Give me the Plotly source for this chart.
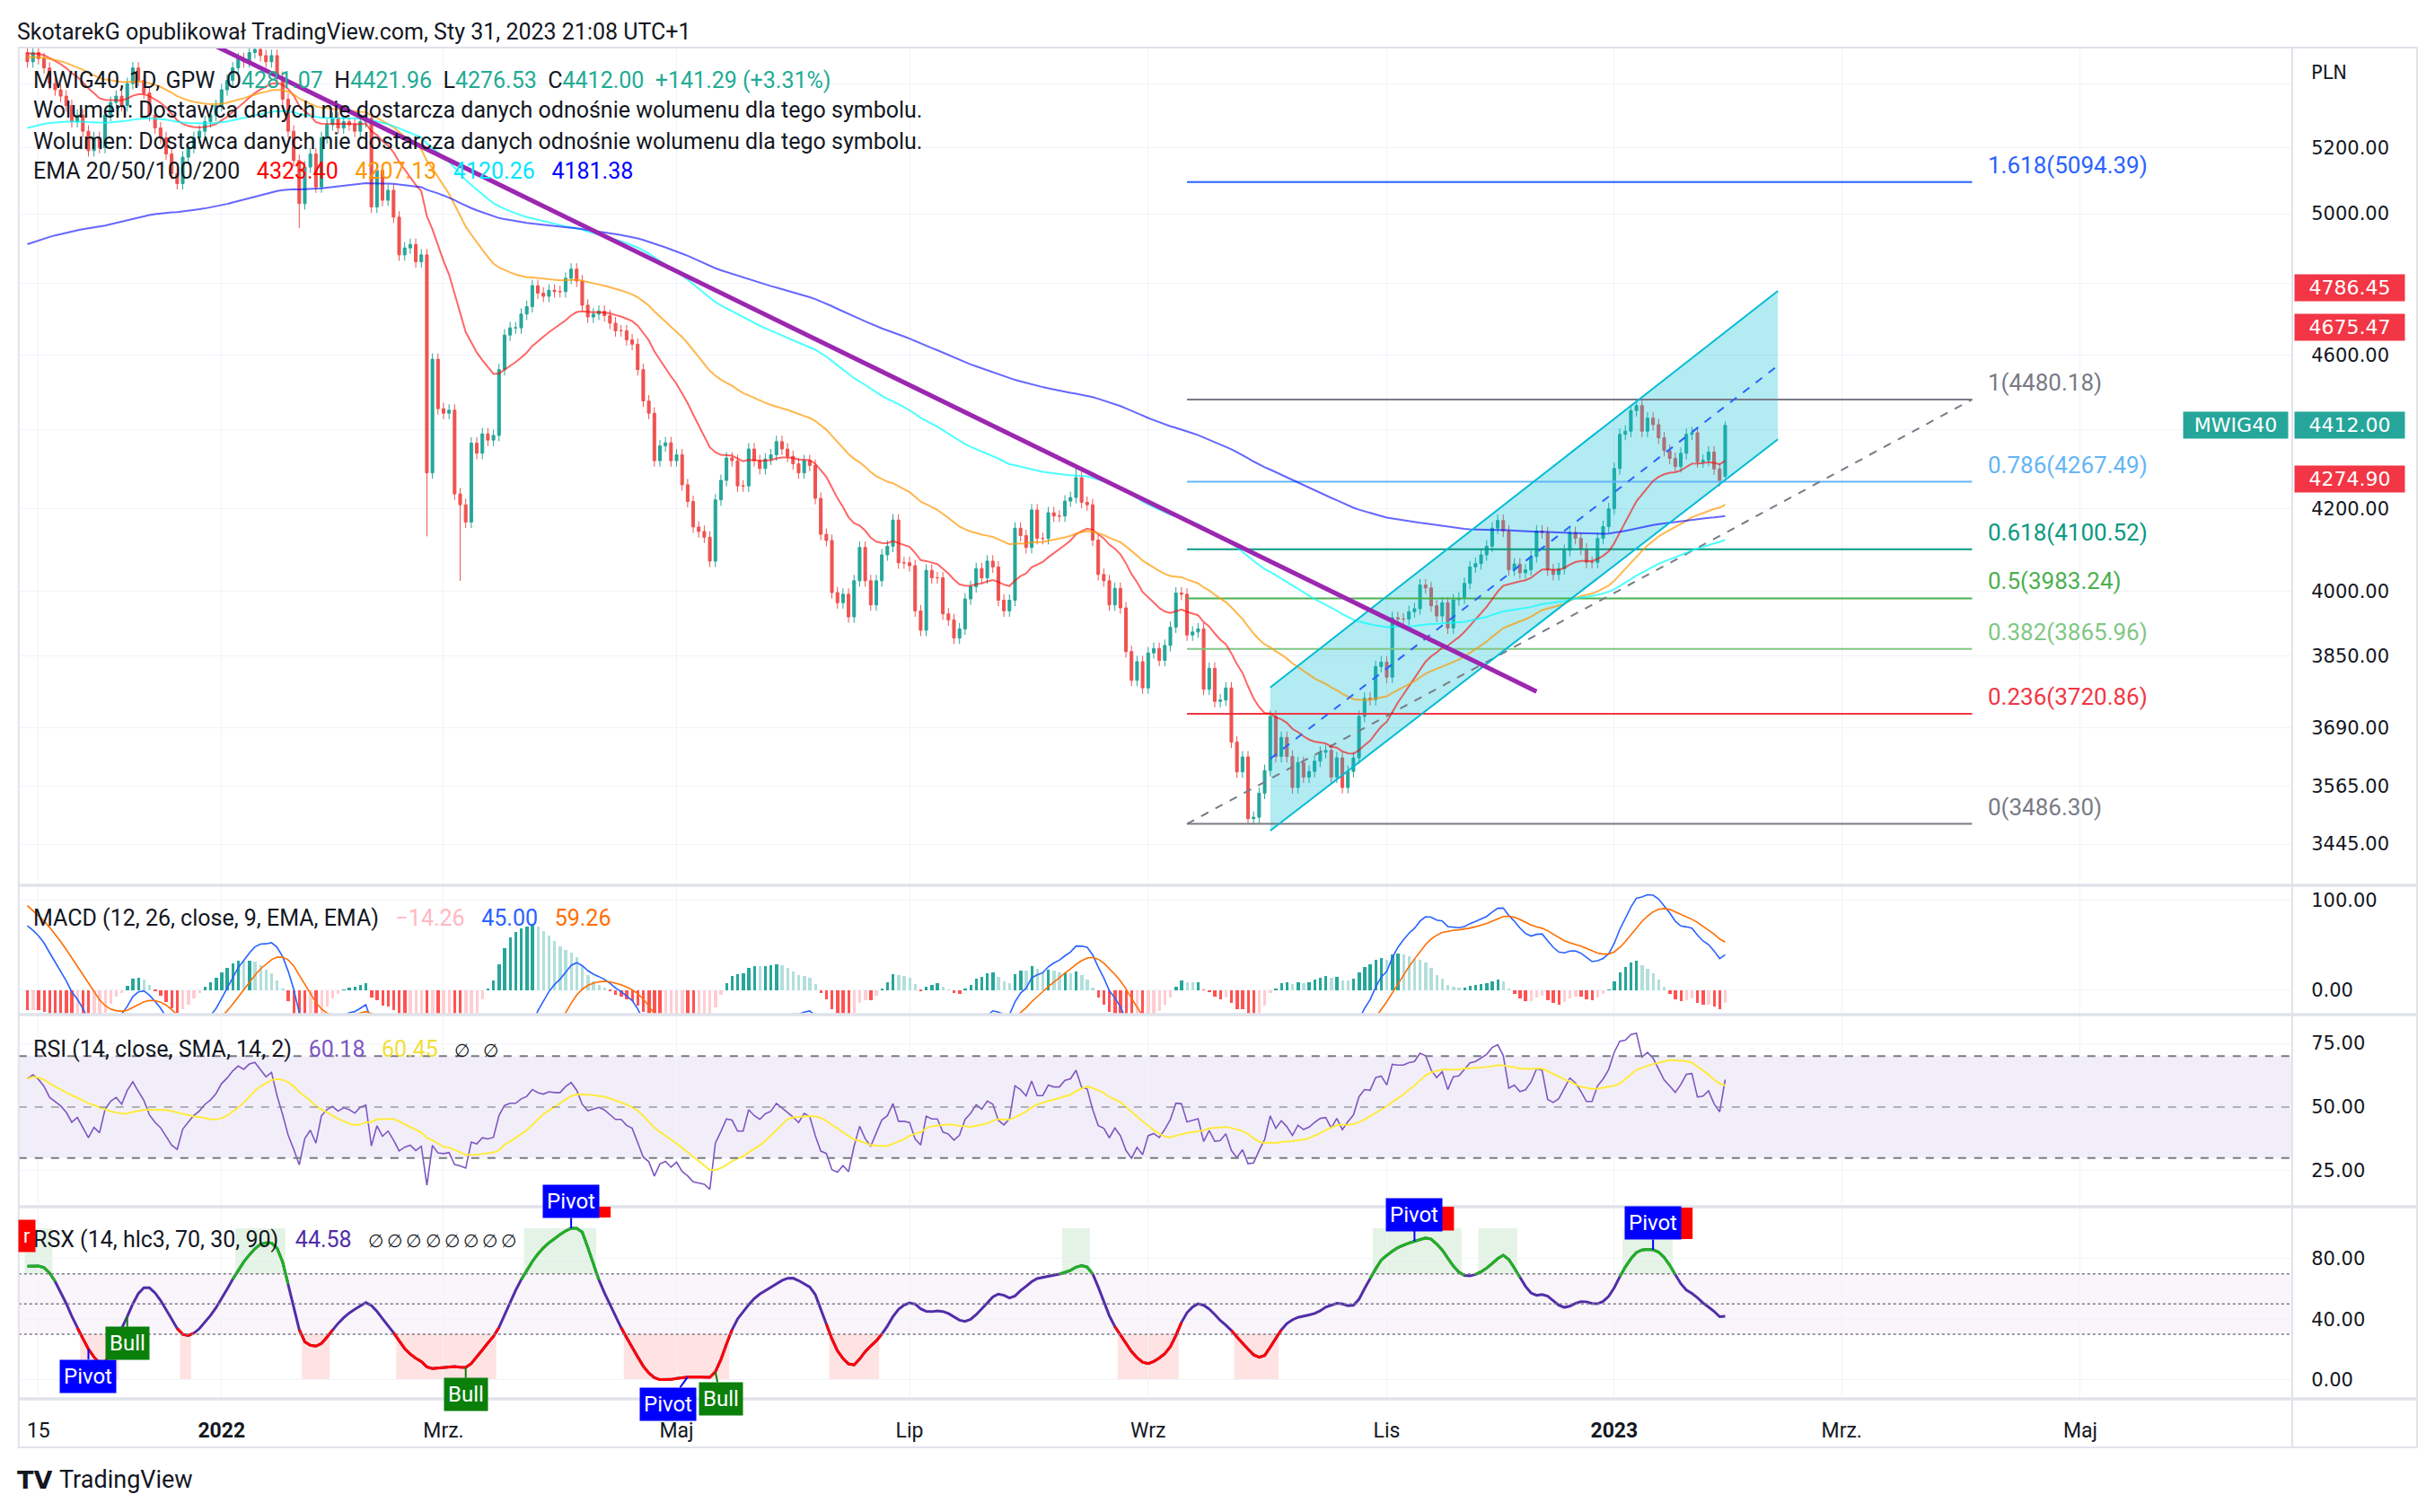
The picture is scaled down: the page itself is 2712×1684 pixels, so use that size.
import numpy as np
import pandas as pd
import plotly.graph_objects as go

W, H = 2712, 1684

# ---------------- price data (daily closes) ----------------
close_nov_dec_2021 = [5470, 5500, 5480, 5450, 5400, 5380, 5360, 5330, 5280, 5300, 5250, 5190, 5230, 5200,
                      5300, 5340, 5360, 5330, 5400, 5450, 5410, 5370, 5300, 5260, 5230, 5180, 5120, 5090,
                      5170, 5200, 5230, 5250, 5280, 5300, 5330]
close_jan_feb_2022 = [5380, 5410, 5450, 5480, 5470, 5500, 5510, 5490, 5470, 5490, 5420, 5350, 5250, 5160,
                      5030, 5140, 5180, 5080, 5230, 5270,
                      5290, 5260, 5280, 5270, 5250, 5280, 5290, 5020, 5130, 5040, 5070, 4990, 4880, 4900,
                      4910, 4860, 4880, 4290, 4588, 4456]
close_mar_jun_2022 = [4444, 4452, 4237, 4210, 4167, 4366, 4340, 4390, 4374, 4386, 4560, 4654, 4674, 4674,
                      4712, 4733, 4792, 4771, 4762, 4779, 4775, 4775, 4813, 4839, 4805, 4737, 4704, 4712,
                      4720, 4708, 4687, 4666, 4666, 4641, 4629, 4560, 4476, 4444, 4321, 4359, 4367, 4321,
                      4336, 4260, 4218, 4155, 4144, 4130, 4072, 4222, 4271, 4328, 4321, 4257, 4257, 4351,
                      4321, 4301, 4325, 4336, 4370, 4351, 4332, 4313, 4290, 4321, 4309, 4226, 4137, 4122,
                      3997, 3973]
close_jun_sep_2022 = [3993, 3940, 4025, 4105, 4025, 3968, 4025, 4087, 4108, 4172,
                      4068, 4068, 4061, 3954, 3909, 4050, 4032, 4032, 3947, 3933,
                      3891, 3912, 3982, 4011, 4054, 4032, 4072, 4058, 3979, 3954,
                      3979, 4152, 4134, 4105, 4197, 4127, 4127, 4190, 4182, 4182,
                      4219, 4228, 4278, 4216, 4210, 4123, 4040, 4025, 3968, 4007,
                      3961, 3860, 3795, 3837, 3778, 3857, 3867, 3840, 3874, 3916,
                      3996, 3993, 3898, 3905, 3912, 3775, 3822, 3748, 3751, 3778,
                      3659, 3595, 3627, 3497, 3500, 3550, 3598]
close_oct_dec_2022 = [3715, 3628, 3669, 3628, 3562, 3615, 3584, 3596, 3618, 3637,
                      3641, 3584, 3625, 3562, 3596, 3625, 3715, 3755, 3752, 3826,
                      3836, 3802, 3938, 3935, 3935, 3952, 3959, 4015, 4008, 3966,
                      3942, 3973, 3914, 3980, 3984, 4019, 4058, 4066, 4087, 4108,
                      4152, 4171, 4145, 4051, 4065, 4044, 4051, 4083, 4145, 4141,
                      4051, 4040, 4054, 4098, 4141, 4127, 4101, 4069, 4069, 4127,
                      4156, 4200]
close_jan_2023 = [4301, 4389, 4397, 4451, 4464, 4397, 4431, 4414, 4380, 4347, 4327, 4306, 4340, 4389,
                  4393, 4318, 4322, 4343, 4300, 4270.71, 4412.00]

first_open = 5500.0
last_bar = dict(open=4281.07, high=4421.96, low=4276.53)
low_wicks = {"2022-01-24": 4958, "2022-02-24": 4132, "2022-03-04": 4025, "2022-09-27": 3486.30}
high_wicks = {"2023-01-10": 4480.18, "2022-08-12": 4305}

gpw_holidays = ["2021-11-11", "2021-12-24", "2021-12-31", "2022-01-06", "2022-04-15", "2022-04-18",
                "2022-05-03", "2022-06-16", "2022-08-15", "2022-11-01", "2022-11-11", "2022-12-26",
                "2023-01-06"]

ema_periods = [20, 50, 100, 200]
ema_seeds = [5500, 5485, 5256, 4905]
ema_line_colors = ["rgba(255,0,0,0.6)", "rgba(255,152,0,0.7)", "rgba(0,255,255,0.7)", "rgba(0,0,255,0.6)"]
macd_seeds = dict(fast=5500, slow=5420, signal=100)
rsi_seeds = dict(gain=35.0, loss=20.0)
rsx_seeds = dict(num=2000.0, den=4000.0)

# legend values (as printed on the chart)
legend_ohlc = ["4281.07", "4421.96", "4276.53", "4412.00"]
legend_change = "+141.29 (+3.31%)"
legend_ema = ["4323.40", "4207.13", "4120.26", "4181.38"]
legend_ema_colors = ["#FF0000", "#FF9800", "#00E5FF", "#0000FF"]
legend_macd = ["\u221214.26", "45.00", "59.26"]
legend_rsi = ["60.18", "60.45"]
legend_rsx = "44.58"

# horizontal levels and drawings
red_levels = [4786.45, 4675.47, 4274.90]
last_price = 4412.00
fib_labels = ["0", "0.236", "0.382", "0.5", "0.618", "0.786", "1", "1.618"]
fib_prices = [3486.30, 3720.86, 3865.96, 3983.24, 4100.52, 4267.49, 4480.18, 5094.39]
fib_colors = ["#787B86", "#F23645", "#81C784", "#4CAF50", "#089981", "#64B5F6", "#787B86", "#2962FF"]
fib_x = ["2022-09-12 12:00", "2023-04-04 00:00"]
trend_x = ["2021-12-27 12:00", "2022-12-12 12:00"]
trend_y = [5547, 3770]
chan_x = ["2022-10-03 12:00", "2023-02-14 00:00"]
chan_upper = [3779, 4777]
chan_mid = [3623, 4571]
chan_lower = [3472, 4376]
box_x = ["2023-01-09 19:00", "2023-06-08 00:00"]
box_y = [4675.47, 4786.45]

rsx_label_dates = ["2021-11-26", "2021-12-07", "2022-03-07", "2022-04-01", "2022-05-05", "2022-05-12",
                   "2022-11-09", "2023-01-12"]
rsx_label_text = ["Pivot", "Bull", "Bull", "Pivot", "Pivot", "Bull", "Pivot", "Pivot"]
rsx_label_side = ["below", "below", "below", "above", "below", "below", "above", "above"]
rsx_label_dx = [0, 0, 0, 0, -22, 6, 0, 0]

price_ticks = [5400, 5200, 5000, 4800, 4600, 4400, 4200, 4000, 3850, 3690, 3565, 3445]
price_ticks_hidden = [5400, 4800, 4400]   # covered by the PLN caption and price badges
time_tickvals = ["2021-11-15 12:00", "2022-01-03 12:00", "2022-03-01 12:00", "2022-05-02 12:00",
                 "2022-07-01 12:00", "2022-09-01 12:00", "2022-11-02 12:00", "2023-01-02 12:00",
                 "2023-03-01 12:00", "2023-05-01 12:00"]
time_ticktext = ["15", "<b>2022</b>", "Mrz.", "Maj", "Lip", "Wrz", "Lis", "<b>2023</b>", "Mrz.", "Maj"]

# ---------------- build series ----------------
close = np.array(close_nov_dec_2021 + close_jan_feb_2022 + close_mar_jun_2022 + close_jun_sep_2022
                 + close_oct_dec_2022 + close_jan_2023, dtype=float)
n = len(close)
bd = pd.bdate_range("2021-09-01", "2023-01-31")
bd = bd[~bd.isin(pd.to_datetime(gpw_holidays))]
days = bd[-n:]
dates = days + pd.Timedelta(hours=12)

open_ = np.concatenate([[first_open], close[:-1]])
open_[-1] = last_bar["open"]
wick = 0.0035
high = np.maximum(open_, close) * (1 + wick)
low = np.minimum(open_, close) * (1 - wick)
high[-1] = last_bar["high"]
low[-1] = last_bar["low"]
for d, v in low_wicks.items():
    low[days.get_loc(pd.Timestamp(d))] = v
for d, v in high_wicks.items():
    high[days.get_loc(pd.Timestamp(d))] = v


def ema(values, period, seed):
    a = 2.0 / (period + 1)
    out, v = [], seed
    for x in values:
        v = v + a * (x - v)
        out.append(v)
    return np.array(out)


emas = [ema(close, p, s) for p, s in zip(ema_periods, ema_seeds)]
fast = ema(close, 12, macd_seeds["fast"])
slow = ema(close, 26, macd_seeds["slow"])
macd = fast - slow
signal = ema(macd, 9, macd_seeds["signal"])
hist = macd - signal
hist_colors = []
for i, h in enumerate(hist):
    prev = hist[i - 1] if i > 0 else h
    if h >= 0:
        hist_colors.append("#26A69A" if h >= prev else "#B2DFDB")
    else:
        hist_colors.append("#FF5252" if h <= prev else "#FFCDD2")

ag, al = rsi_seeds["gain"], rsi_seeds["loss"]
rsi = []
prev = first_open
for c in close:
    ch = c - prev
    ag = (ag * 13 + max(ch, 0)) / 14
    al = (al * 13 + max(-ch, 0)) / 14
    rsi.append(100 - 100 / (1 + ag / al))
    prev = c
rsi = np.array(rsi)
rsi_ma = pd.Series(rsi).rolling(14, min_periods=1).mean().values


def rsx_calc(src, length, num, den):
    f18 = 3.0 / (length + 2.0)
    f20 = 1 - f18
    f28 = f30 = f38 = f40 = f48 = f50 = num
    f58 = f60 = f68 = f70 = f78 = f80 = den
    out = []
    for i in range(len(src)):
        v8 = 100 * (src[i] - (src[i - 1] if i > 0 else src[i]))
        f28 = f20 * f28 + f18 * v8
        f30 = f18 * f28 + f20 * f30
        vC = f28 * 1.5 - f30 * 0.5
        f38 = f20 * f38 + f18 * vC
        f40 = f18 * f38 + f20 * f40
        v10 = f38 * 1.5 - f40 * 0.5
        f48 = f20 * f48 + f18 * v10
        f50 = f18 * f48 + f20 * f50
        v14 = f48 * 1.5 - f50 * 0.5
        f58 = f20 * f58 + f18 * abs(v8)
        f60 = f18 * f58 + f20 * f60
        v18 = f58 * 1.5 - f60 * 0.5
        f68 = f20 * f68 + f18 * v18
        f70 = f18 * f68 + f20 * f70
        v1C = f68 * 1.5 - f70 * 0.5
        f78 = f20 * f78 + f18 * v1C
        f80 = f18 * f78 + f20 * f80
        v20 = f78 * 1.5 - f80 * 0.5
        v = (v14 / v20 + 1) * 50 if v20 > 0 else 50
        out.append(min(100.0, max(0.0, v)))
    return np.array(out)


hlc3 = (high + low + close) / 3
rsx = rsx_calc(hlc3, 14, rsx_seeds["num"], rsx_seeds["den"])

# ---------------- geometry ----------------
XD = [20.8 / W, 2553 / W]
panes = {"y": (53, 986), "y2": (986, 1130), "y3": (1130, 1344), "y4": (1344, 1558)}


def dom(p):
    a, b = panes[p]
    return [1 - b / H, 1 - a / H]


def px(xf):
    return xf / W


def py(yf):
    return 1 - yf / H


x_range = ["2021-11-08 22:19", "2023-06-22 16:48"]
GRID = "#F0F3FA"
TXT = "#131722"
FONT = "Roboto"
AXF = "DejaVu Sans"

fig = go.Figure()


def line(x, y, color, width, ax="y", dash=None):
    fig.add_trace(go.Scatter(x=x, y=y, mode="lines", line=dict(color=color, width=width, dash=dash),
                             xaxis="x" if ax == "y" else "x" + ax[1:], yaxis=ax, hoverinfo="skip",
                             showlegend=False, connectgaps=False))


# channel fill
fig.add_trace(go.Scatter(x=[chan_x[0], chan_x[1], chan_x[1], chan_x[0], chan_x[0]],
                         y=[chan_upper[0], chan_upper[1], chan_lower[1], chan_lower[0], chan_upper[0]],
                         fill="toself", fillcolor="rgba(0,188,212,0.30)", line=dict(width=0),
                         mode="lines", hoverinfo="skip", showlegend=False))
# fib lines
for lab, pr, col in zip(fib_labels, fib_prices, fib_colors):
    line(fib_x, [pr, pr], col, 2)
line(fib_x, [fib_prices[0], fib_prices[6]], "#787B86", 2, dash="dash")

# candles
fig.add_trace(go.Candlestick(x=dates, open=open_, high=high, low=low, close=close,
                             increasing=dict(line=dict(color="#26A69A", width=1), fillcolor="#26A69A"),
                             decreasing=dict(line=dict(color="#EF5350", width=1), fillcolor="#EF5350"),
                             whiskerwidth=0, hoverinfo="skip", showlegend=False))
for e, col in zip(emas, ema_line_colors):
    line(dates, e, col, 2)

# channel lines
line(chan_x, chan_upper, "#00BCD4", 2)
line(chan_x, chan_lower, "#00BCD4", 2)
line(chan_x, chan_mid, "#2962FF", 2, dash="dash")
# trend line
line(trend_x, trend_y, "#9C27B0", 5)

# MACD
fig.add_trace(go.Bar(x=dates, y=hist, marker=dict(color=hist_colors, line=dict(width=0)),
                     width=0.55 * 86400000, xaxis="x2", yaxis="y2", hoverinfo="skip", showlegend=False))
line(dates, macd, "#2962FF", 1.6, ax="y2")
line(dates, signal, "#FF6D00", 1.6, ax="y2")

# RSI
line(dates, rsi, "#7E57C2", 1.6, ax="y3")
line(dates, rsi_ma, "#FFEB3B", 2, ax="y3")


# RSX segments
def runs(mask):
    segs, start = [], None
    for i, m in enumerate(mask):
        if m and start is None:
            start = i
        if not m and start is not None:
            segs.append((start, i - 1))
            start = None
    if start is not None:
        segs.append((start, len(mask) - 1))
    return segs


shapes = []
half = pd.Timedelta(hours=12)
for s, e in runs(rsx < 30):
    shapes.append(dict(type="rect", xref="x4", yref="y4", x0=dates[s] - half, x1=dates[e] + half,
                       y0=0, y1=30, fillcolor="rgba(255,82,82,0.17)", line=dict(width=0), layer="below"))
for s, e in runs(rsx > 70):
    shapes.append(dict(type="rect", xref="x4", yref="y4", x0=dates[s] - half, x1=dates[e] + half,
                       y0=70, y1=100, fillcolor="rgba(76,175,80,0.15)", line=dict(width=0), layer="below"))

line(dates, rsx, "#512DA8", 3, ax="y4")
lo = rsx < 30
hi = rsx > 70
lo_ext = lo | np.roll(lo, 1) | np.roll(lo, -1)
hi_ext = hi | np.roll(hi, 1) | np.roll(hi, -1)
line(dates, np.where(lo_ext, rsx, np.nan), "#FF0000", 3, ax="y4")
line(dates, np.where(hi_ext, rsx, np.nan), "#1DB31D", 3, ax="y4")

# ---------------- shapes ----------------
shapes.append(dict(type="rect", xref="paper", yref="y3", x0=XD[0], x1=XD[1], y0=30, y1=70,
                   fillcolor="rgba(126,87,194,0.10)", line=dict(width=0), layer="below"))
shapes.append(dict(type="rect", xref="paper", yref="y4", x0=XD[0], x1=XD[1], y0=30, y1=70,
                   fillcolor="rgba(156,39,176,0.05)", line=dict(width=0), layer="below"))
for v, c in [(70, "#787B86"), (50, "rgba(120,123,134,0.55)"), (30, "#787B86")]:
    shapes.append(dict(type="line", xref="paper", yref="y3", x0=XD[0], x1=XD[1], y0=v, y1=v,
                       line=dict(color=c, width=2, dash="dash")))
    shapes.append(dict(type="line", xref="paper", yref="y4", x0=XD[0], x1=XD[1], y0=v, y1=v,
                       line=dict(color="#787B86", width=1.5, dash="dot")))
shapes.append(dict(type="rect", xref="x", yref="y", x0=box_x[0], x1=box_x[1],
                   y0=np.log10(box_y[0]), y1=np.log10(box_y[1]),
                   fillcolor="rgba(76,175,80,0.2)", line=dict(color="#4CAF50", width=1.5), layer="below"))
for v in red_levels:
    shapes.append(dict(type="line", xref="paper", yref="y", x0=XD[0], x1=XD[1],
                       y0=np.log10(v), y1=np.log10(v), line=dict(color="#F23645", width=3.5)))
shapes.append(dict(type="line", xref="paper", yref="y", x0=XD[0], x1=XD[1],
                   y0=np.log10(last_price), y1=np.log10(last_price),
                   line=dict(color="#26A69A", width=2, dash="dot")))
SEP = "#E0E3EB"
shapes.append(dict(type="rect", xref="paper", yref="paper", x0=px(20.8), x1=px(2692), y0=py(1612), y1=py(53),
                   line=dict(color=SEP, width=2), fillcolor="rgba(0,0,0,0)"))
for yf in [986, 1130, 1344, 1558]:
    shapes.append(dict(type="line", xref="paper", yref="paper", x0=px(20.8), x1=px(2692), y0=py(yf), y1=py(yf),
                       line=dict(color=SEP, width=3.5)))
shapes.append(dict(type="line", xref="paper", yref="paper", x0=px(2553), x1=px(2553), y0=py(1612), y1=py(53),
                   line=dict(color=SEP, width=2)))

# ---------------- annotations ----------------
ann = []
S = "\u00a0"
SP = S * 3


def col(t, c):
    return f"<span style='color:{c}'>{t}</span>"


def text(xf, yf, t, size=25, color=TXT, family=FONT, anchor="left"):
    ann.append(dict(x=px(xf), y=py(yf), xref="paper", yref="paper", text=t, showarrow=False,
                    xanchor=anchor, yanchor="middle", font=dict(family=family, size=size, color=color)))


NULL = "\u2205"
NULLS = "<span style='font-size:20px'>{}</span>"
text(17, 35, "SkotarekG opublikował TradingView.com, Sty 31, 2023 21:08 UTC+1")
G = "#22AB94"
text(35, 90, "MWIG40, 1D, GPW" + S * 2 + "O" + col(legend_ohlc[0], G) + S * 2 + "H" + col(legend_ohlc[1], G)
     + S * 2 + "L" + col(legend_ohlc[2], G) + S * 2 + "C" + col(legend_ohlc[3], G) + S * 2 + col(legend_change, G))
vol = "Wolumen: Dostawca danych nie dostarcza danych odnośnie wolumenu dla tego symbolu."
text(35, 123, vol)
text(35, 157, vol)
text(35, 190, "EMA 20/50/100/200" + SP + SP.join(col(v, c) for v, c in zip(legend_ema, legend_ema_colors)))
text(35, 1022, "MACD (12, 26, close, 9, EMA, EMA)" + SP + col(legend_macd[0], "#FFB8C2") + SP
     + col(legend_macd[1], "#2962FF") + SP + col(legend_macd[2], "#FF6D00"))
text(35, 1168, "RSI (14, close, SMA, 14, 2)" + SP + col(legend_rsi[0], "#7E57C2") + SP
     + col(legend_rsi[1], "#F2DE3A") + SP + NULLS.format(NULL + S * 3 + NULL))
text(35, 1380, "RSX (14, hlc3, 70, 30, 90)" + SP + col(legend_rsx, "#512DA8") + SP
     + NULLS.format("\u2009".join([NULL] * 8)))
text(17, 1648, "<b>TV</b>", size=27, family="DejaVu Sans")
text(64, 1648, "TradingView", size=27)

for lab, pr, c in zip(fib_labels, fib_prices, fib_colors):
    ann.append(dict(x=fib_x[1], y=np.log10(pr), xref="x", yref="y", text=f"{lab}({pr:.2f})", showarrow=False,
                    xanchor="left", yanchor="middle", xshift=16, yshift=19,
                    font=dict(family=FONT, size=26, color=c)))


def badge(v, t, bg, xf=2555, anchor="left", w=118):
    ann.append(dict(x=px(xf), y=np.log10(v), xref="paper", yref="y", text=t, showarrow=False,
                    xanchor=anchor, yanchor="middle", bgcolor=bg, borderpad=2, width=w,
                    font=dict(family=AXF, size=22, color="white")))


for v in red_levels:
    badge(v, f"{v:.2f}", "#F23645")
badge(last_price, f"{last_price:.2f}", "#26A69A")
badge(last_price, "MWIG40", "#26A69A", xf=2549, anchor="right", w=112)
ann.append(dict(x=px(2572), y=py(81), xref="paper", yref="paper", text="PLN", showarrow=False,
                xanchor="left", yanchor="middle", font=dict(family=AXF, size=21, color=TXT)))

# RSX labels
ann.append(dict(x=px(20), y=95, xref="paper", yref="y4", text="r", showarrow=False, xanchor="left",
                yanchor="middle", bgcolor="#FF0000", borderpad=5, font=dict(family=FONT, size=22, color="white")))
for d, t, side, dx in zip(rsx_label_dates, rsx_label_text, rsx_label_side, rsx_label_dx):
    i = days.get_loc(pd.Timestamp(d))
    c = "#0000FF" if t == "Pivot" else "#0A7F0A"
    ay = 30 if side == "below" else -30
    if t == "Pivot" and side == "above":
        shapes.append(dict(type="rect", xref="x4", yref="y4", xsizemode="pixel", ysizemode="pixel",
                           xanchor=dates[i], yanchor=rsx[i], x0=-20, x1=44, y0=12, y1=47,
                           fillcolor="#FF0000", line=dict(width=0)))
    ann.append(dict(x=dates[i], y=rsx[i], xref="x4", yref="y4", text=t, showarrow=True, arrowhead=0,
                    arrowwidth=2, arrowcolor=c, ax=dx, ay=ay, bgcolor=c, borderpad=4,
                    font=dict(family=FONT, size=24, color="white")))

# ---------------- layout ----------------
xcommon = dict(type="date", range=x_range, domain=XD,
               rangebreaks=[dict(bounds=["sat", "mon"]), dict(values=gpw_holidays)],
               showgrid=True, gridcolor=GRID, gridwidth=1, tickvals=time_tickvals, ticktext=time_ticktext,
               zeroline=False, showline=False, fixedrange=True)
ycommon = dict(side="right", showgrid=True, gridcolor=GRID, gridwidth=1, zeroline=False, showline=False,
               ticks="outside", ticklen=16, tickcolor="rgba(0,0,0,0)",
               tickfont=dict(family=AXF, size=21, color=TXT), fixedrange=True)

layout = dict(
    width=W, height=H, margin=dict(l=0, r=0, t=0, b=0),
    paper_bgcolor="white", plot_bgcolor="white", showlegend=False, hovermode=False,
    bargap=0, shapes=shapes, annotations=ann,
    xaxis=dict(xcommon, anchor="y", showticklabels=False, rangeslider=dict(visible=False)),
    xaxis2=dict(xcommon, anchor="y2", matches="x", showticklabels=False),
    xaxis3=dict(xcommon, anchor="y3", matches="x", showticklabels=False),
    xaxis4=dict(xcommon, anchor="y4", matches="x", showticklabels=True, ticks="outside", ticklen=14,
                tickcolor="rgba(0,0,0,0)", tickfont=dict(family=FONT, size=23, color=TXT)),
    yaxis=dict(ycommon, domain=dom("y"), anchor="x", type="log",
               range=[np.log10(3362), np.log10(5516)], tickvals=price_ticks,
               ticktext=["" if v in price_ticks_hidden else f"{v:.2f}" for v in price_ticks]),
    yaxis2=dict(ycommon, domain=dom("y2"), anchor="x2", range=[-27.5, 117], tickvals=[0, 100],
                ticktext=["0.00", "100.00"]),
    yaxis3=dict(ycommon, domain=dom("y3"), anchor="x3", range=[10.9, 86.3], tickvals=[25, 50, 75],
                ticktext=["25.00", "50.00", "75.00"]),
    yaxis4=dict(ycommon, domain=dom("y4"), anchor="x4", range=[-12.7, 114.3], tickvals=[0, 40, 80],
                ticktext=["0.00", "40.00", "80.00"]),
)
fig.update_layout(layout)
fig.write_html("out.html")
